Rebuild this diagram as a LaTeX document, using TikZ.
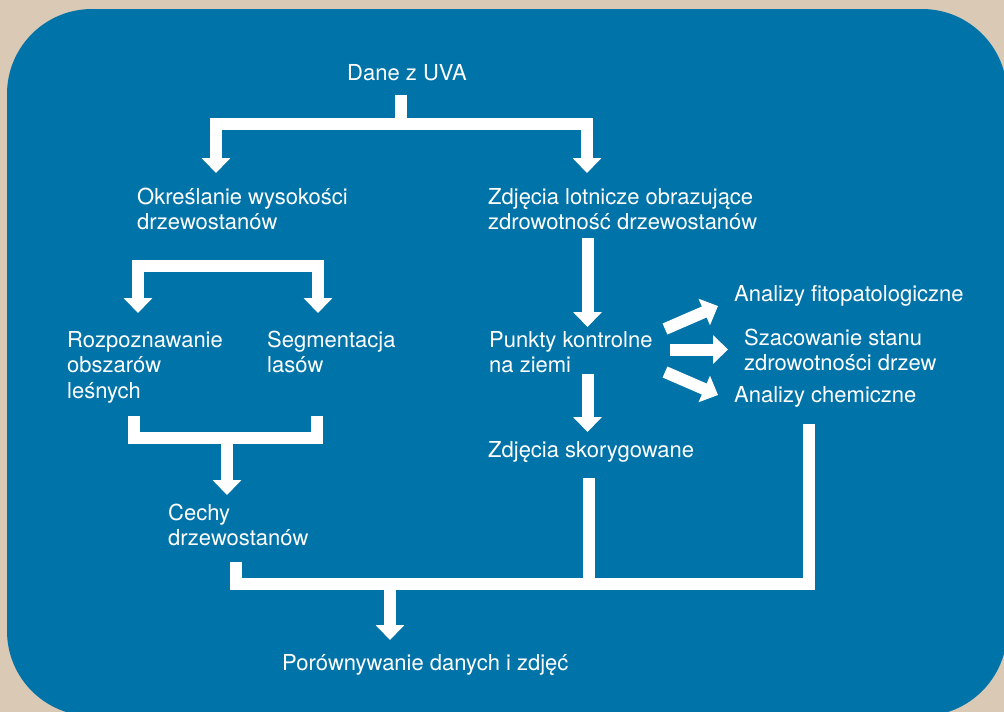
\documentclass[tikz,border=0pt]{standalone}
\usepackage{fontspec}
\setmainfont{TeX Gyre Heros}
\usetikzlibrary{arrows.meta}
\definecolor{bgbeige}{RGB}{217,201,181}
\definecolor{panelblue}{RGB}{0,115,168}
\newcommand{\mlines}[1]{\begin{tabular}[t]{@{}l@{}}#1\end{tabular}}
\begin{document}
\begin{tikzpicture}[x=1pt,y=-1pt,
  >={Triangle[length=15pt,width=28pt]},
  lbl/.style={anchor=base west, inner sep=0pt, text=white, font=\fontsize{22}{25.5}\selectfont},
  flow/.style={draw=white, line width=12pt, line join=miter, line cap=butt}]
\useasboundingbox (0,0) rectangle (1004,712);
\clip (0,0) rectangle (1004,712);
\fill[bgbeige] (0,0) rectangle (1004,712);
\fill[panelblue, rounded corners=85pt] (7,9) rectangle (1007,716);

% texts
\node[lbl] (dane) at (347,80) {Dane z UVA};
\node[lbl] (okr) at (137,204) {\mlines{Określanie wysokości\\drzewostanów}};
\node[lbl] (zdj) at (488,204) {\mlines{Zdjęcia lotnicze obrazujące\\zdrowotność drzewostanów}};
\node[lbl] (rozp) at (67,347) {\mlines{Rozpoznawanie\\obszarów\\leśnych}};
\node[lbl] (seg) at (267,347) {\mlines{Segmentacja\\lasów}};
\node[lbl] (cechy) at (168,520) {\mlines{Cechy\\drzewostanów}};
\node[lbl] (punkty) at (489,347) {\mlines{Punkty kontrolne\\na ziemi}};
\node[lbl] (afito) at (734,301) {Analizy fitopatologiczne};
\node[lbl] (szac) at (744,345) {\mlines{Szacowanie stanu\\zdrowotności drzew}};
\node[lbl] (achem) at (734,402) {Analizy chemiczne};
\node[lbl] (skor) at (488,457) {Zdjęcia skorygowane};
\node[lbl] (porown) at (282,670) {Porównywanie danych i zdjęć};

% connector points
\coordinate (daneStem) at (401,95);
\coordinate (topBar) at (401,124);
\coordinate (okrTip) at (216,173);
\coordinate (zdjTip) at (587,173);
\coordinate (rozpTip) at (138,313);
\coordinate (segTip) at (318,313);
\coordinate (leftBar) at (228,266);
\coordinate (rozpEnd) at (134,416);
\coordinate (segEnd) at (317,416);
\coordinate (cupMid) at (227,437.5);
\coordinate (cechyTip) at (227,495);
\coordinate (zdjStart) at (587.5,238);
\coordinate (punktyTip) at (587.5,327);
\coordinate (punktyEnd) at (587.5,374);
\coordinate (skorTip) at (587.5,432);
\coordinate (d1s) at (665,329);
\coordinate (d1e) at (718,306);
\coordinate (d2s) at (670,349.5);
\coordinate (d2e) at (728,349.5);
\coordinate (d3s) at (665,372);
\coordinate (d3e) at (718,395);
\coordinate (cechyEnd) at (236,562);
\coordinate (skorEnd) at (588.5,478);
\coordinate (achemEnd) at (809,424);
\coordinate (botBar) at (390,583.5);
\coordinate (porTip) at (390,640);

% connectors
\draw[flow] (daneStem) -- (topBar);
\draw[flow,<->] (okrTip) |- (topBar) -| (zdjTip);
\draw[flow,<->] (rozpTip) |- (leftBar) -| (segTip);
\draw[flow] (rozpEnd) |- (cupMid) -| (segEnd);
\draw[flow,->] (cupMid) -- (cechyTip);
\draw[flow,->] (zdjStart) -- (punktyTip);
\draw[flow,->] (punktyEnd) -- (skorTip);
\draw[flow,->] (d1s) -- (d1e);
\draw[flow,->] (d2s) -- (d2e);
\draw[flow,->] (d3s) -- (d3e);
\draw[flow] (cechyEnd) |- (botBar) -| (achemEnd);
\draw[flow] (skorEnd) -- (skorEnd |- botBar);
\draw[flow,->] (botBar) -- (porTip);
\end{tikzpicture}
\end{document}
